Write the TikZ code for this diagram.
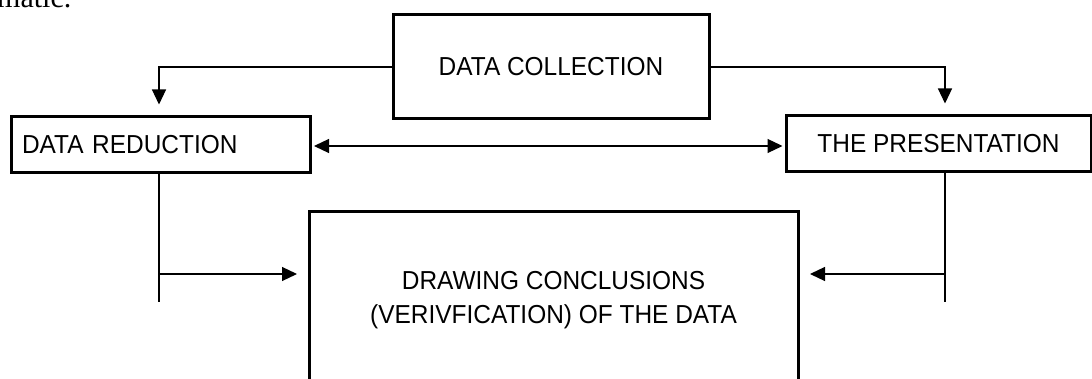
\documentclass[tikz,border=0pt]{standalone}
\usepackage{fontspec}
\setmainfont[FakeStretch=0.94]{Liberation Sans}
\newfontfamily\serifrm{Liberation Serif}
\usetikzlibrary{arrows.meta,calc}
\tikzset{
  box/.style={draw, line width=3pt, rectangle, inner sep=0pt, align=center,
              font=\fontsize{26}{34}\selectfont},
  link/.style={line width=1.2pt},
  arrowlink/.style={link, -{Triangle[length=15pt,width=14pt]}},
  twoway/.style={link, {Triangle[length=15pt,width=14pt]}-{Triangle[length=15pt,width=14pt]}}
}
\begin{document}
\begin{tikzpicture}[x=1pt,y=-1pt]
  \useasboundingbox (0,0) rectangle (1092,379);
  \clip (0,0) rectangle (1092,379);

  % tail of the preceding sentence
  \node[anchor=base west, inner sep=0pt, font=\serifrm\fontsize{30}{36}\selectfont] (tail) at (-3,8) {matic.};

  % boxes
  \node[box, minimum width=316pt, minimum height=104pt] (coll) at (551,67) {DATA COLLECTION};
  \node[box, minimum width=299pt, minimum height=56pt, text width=277pt, align=left] (red) at (160.5,145) {DATA REDUCTION};
  \node[box, minimum width=305pt, minimum height=56pt] (pres) at (938.5,144) {THE PRESENTATION};
  \node[box, minimum width=489pt, minimum height=176pt] (concl) at (553.5,300)
       {DRAWING CONCLUSIONS\\(VERIVFICATION) OF THE DATA};

  % from data collection down to the two side boxes
  \draw[arrowlink, shorten >=11pt] (coll.west) -| ([xshift=-1.5pt]red.north);
  \draw[arrowlink, shorten >=11pt] (coll.east) -| ([xshift=6.5pt]pres.north);

  % two-way link between reduction and presentation
  \draw[twoway, shorten <=2.5pt, shorten >=2pt] ([yshift=-1pt]red.east) -- ([yshift=-1pt]red.east -| pres.west);

  % side branches into the conclusions box
  \coordinate (lend) at (159,302);
  \coordinate (ljoin) at (159,274);
  \coordinate (rend) at (945,302);
  \coordinate (rjoin) at (945,274);
  \draw[link] ([xshift=-1.5pt]red.south) -- (lend);
  \draw[arrowlink, shorten >=10.5pt] (ljoin) -- (ljoin -| concl.west);
  \draw[link] ([xshift=6.5pt]pres.south) -- (rend);
  \draw[arrowlink, shorten >=10.5pt] (rjoin) -- (rjoin -| concl.east);
\end{tikzpicture}
\end{document}
